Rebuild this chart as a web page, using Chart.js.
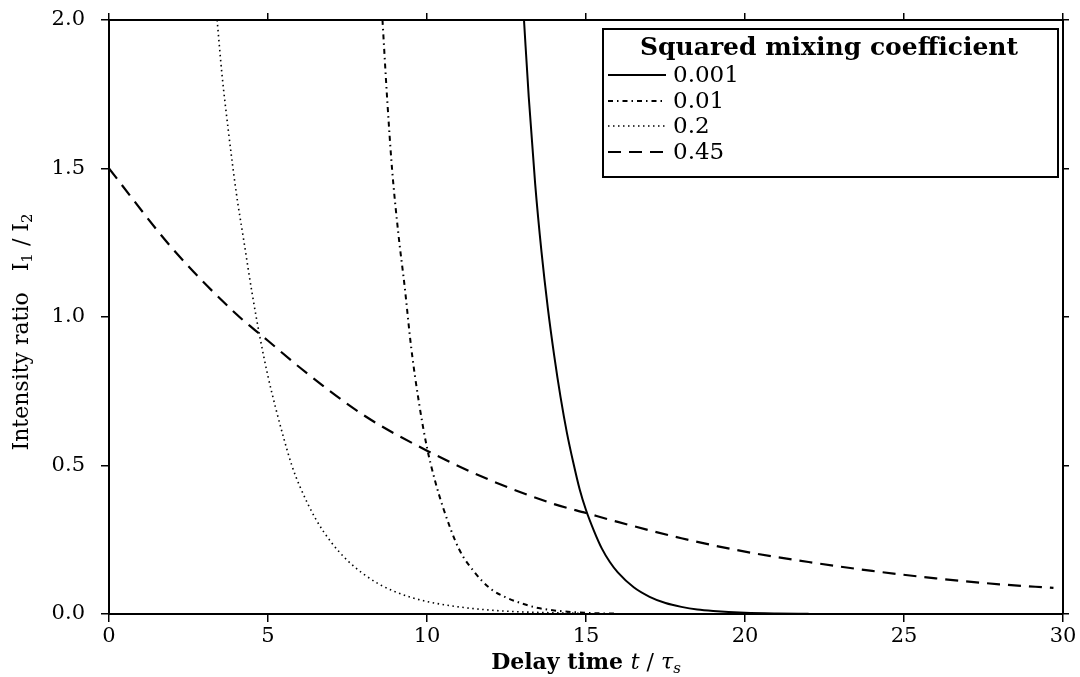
<!DOCTYPE html>
<html>
<head>
<meta charset="utf-8">
<script src="https://cdn.jsdelivr.net/npm/chart.js@4"></script>
<style>
  body { margin: 0; background: #fff; }
  #wrap { width: 1080px; height: 677px; position: relative; }
</style>
</head>
<body>
<div id="wrap"><canvas id="ratioChart"></canvas></div>
<script>
// legend labels (squared mixing coefficient)
const coefficients = ["0.001", "0.01", "0.2", "0.45"];

// 0.001 - solid
const t001 = [13.05, 13.2, 13.4, 13.6, 13.8, 14.0, 14.2, 14.4, 14.6, 14.8, 15.0, 15.25, 15.5, 15.75, 16.0, 16.5, 17.0, 17.5, 18.0, 18.5, 19.0, 20.0, 21.0, 22.0];
const r001 = [2.0, 1.74, 1.45, 1.22, 1.03, 0.87, 0.73, 0.61, 0.51, 0.42, 0.35, 0.28, 0.22, 0.175, 0.14, 0.09, 0.058, 0.037, 0.024, 0.015, 0.01, 0.004, 0.0015, 0.0005];

// 0.01 - dash dot
const t01 = [8.6, 8.75, 8.9, 9.1, 9.3, 9.5, 9.75, 10.0, 10.25, 10.5, 11.0, 11.5, 12.0, 12.5, 13.0, 13.5, 14.0, 15.0, 16.0];
const r01 = [2.0, 1.73, 1.5, 1.28, 1.1, 0.9, 0.71, 0.56, 0.45, 0.36, 0.22, 0.14, 0.085, 0.055, 0.035, 0.02, 0.012, 0.004, 0.001];

// 0.2 - dotted
const t2 = [3.4, 3.55, 3.75, 4.0, 4.25, 4.5, 4.75, 5.0, 5.25, 5.5, 5.75, 6.0, 6.5, 7.0, 7.5, 8.0, 8.5, 9.0, 9.5, 10.0, 11.0, 12.0, 13.0, 14.0, 15.0];
const r2 = [2.0, 1.82, 1.63, 1.42, 1.25, 1.08, 0.93, 0.8, 0.69, 0.59, 0.5, 0.43, 0.32, 0.24, 0.18, 0.135, 0.1, 0.075, 0.056, 0.042, 0.024, 0.013, 0.007, 0.004, 0.002];

// 0.45 - dashed
const t45 = [0, 2, 4, 5, 6, 8, 10, 12, 14, 15, 16, 18, 20, 22, 24, 26, 28, 29.7];
const r45 = [1.5, 1.23, 1.01, 0.92, 0.83, 0.67, 0.55, 0.45, 0.37, 0.34, 0.31, 0.255, 0.21, 0.175, 0.145, 0.12, 0.1, 0.088];

// axis ticks
const xTicks = [0, 5, 10, 15, 20, 25, 30];
const yTicks = [0.0, 0.5, 1.0, 1.5, 2.0];

const SERIF = "'DejaVu Serif', 'Liberation Serif', serif";

function pts(xs, ys) {
  return xs.map((x, i) => ({ x: x, y: ys[i] }));
}

// line styles per coefficient
const styles = [
  { dash: [], width: 2 },
  { dash: [5, 4, 1.5, 4], width: 2 },
  { dash: [1.5, 3.5], width: 1.6 },
  { dash: [13, 8], width: 2.2 }
];
const series = [pts(t001, r001), pts(t01, r01), pts(t2, r2), pts(t45, r45)];

const datasets = coefficients.map((c, i) => ({
  label: c,
  data: series[i],
  borderColor: "#000",
  borderWidth: styles[i].width,
  borderDash: styles[i].dash,
  pointRadius: 0,
  fill: false,
  cubicInterpolationMode: "monotone"
}));

// draws the boxed legend and the axis titles (mixed bold / italic / subscripts)
const decorations = {
  id: "decorations",
  afterDraw(chart) {
    const ctx = chart.ctx;
    ctx.save();
    ctx.fillStyle = "#000";
    ctx.strokeStyle = "#000";

    // legend box
    const bx = 603, by = 29, bw = 455, bh = 148;
    ctx.fillStyle = "#fff";
    ctx.fillRect(bx, by, bw, bh);
    ctx.fillStyle = "#000";
    ctx.lineWidth = 2;
    ctx.setLineDash([]);
    ctx.strokeRect(bx, by, bw, bh);

    ctx.textBaseline = "middle";
    ctx.font = "bold 25px " + SERIF;
    ctx.fillText("Squared mixing coefficient", 640, 48);

    ctx.font = "23px " + SERIF;
    const rows = [75, 101, 126, 152];
    chart.data.datasets.forEach((ds, i) => {
      const y = rows[i];
      ctx.beginPath();
      ctx.lineWidth = ds.borderWidth;
      ctx.setLineDash(ds.borderDash);
      ctx.moveTo(608, y);
      ctx.lineTo(666, y);
      ctx.stroke();
      ctx.setLineDash([]);
      ctx.fillText(ds.label, 673, y + 1);
    });

    // x axis title: Delay time t / τs
    const xParts = [
      ["bold 22px " + SERIF, "Delay time ", 0],
      ["italic 22px " + SERIF, "t", 0],
      ["22px " + SERIF, " / ", 0],
      ["italic 22px " + SERIF, "τ", 0],
      ["italic 15px " + SERIF, "s", 4]
    ];
    let total = 0;
    xParts.forEach(p => { ctx.font = p[0]; total += ctx.measureText(p[1]).width; });
    const area = chart.chartArea;
    let x = (area.left + area.right) / 2 - total / 2;
    ctx.textBaseline = "alphabetic";
    xParts.forEach(p => {
      ctx.font = p[0];
      ctx.fillText(p[1], x, 669 + p[2]);
      x += ctx.measureText(p[1]).width;
    });

    // y axis title: Intensity ratio  I1 / I2
    const yParts = [
      ["22px " + SERIF, "Intensity ratio   I", 0],
      ["15px " + SERIF, "1", 4],
      ["22px " + SERIF, " / I", 0],
      ["15px " + SERIF, "2", 4]
    ];
    total = 0;
    yParts.forEach(p => { ctx.font = p[0]; total += ctx.measureText(p[1]).width; });
    ctx.translate(28, 332);
    ctx.rotate(-Math.PI / 2);
    x = -total / 2;
    yParts.forEach(p => {
      ctx.font = p[0];
      ctx.fillText(p[1], x, p[2]);
      x += ctx.measureText(p[1]).width;
    });
    ctx.restore();
  }
};

// fixed axis sizes; label overhang padding is dropped so the frame sits where the reference has it
function fixed(size) {
  return function (scale) {
    if (scale.isHorizontal()) scale.height = size; else scale.width = size;
    scale.paddingTop = 0;
    scale.paddingBottom = 0;
  };
}

const tickGrid = len => ({ drawOnChartArea: false, drawTicks: true, tickLength: len, color: "#000", lineWidth: 1.5 });
const frame = { display: true, color: "#000", width: 2 };

new Chart(document.getElementById("ratioChart"), {
  type: "line",
  data: { datasets: datasets },
  options: {
    responsive: true,
    maintainAspectRatio: false,
    animation: false,
    layout: { padding: 0 },
    plugins: {
      legend: { display: false },
      tooltip: { enabled: false }
    },
    scales: {
      x: {
        type: "linear", position: "bottom", min: 0, max: 30,
        afterBuildTicks: s => { s.ticks = xTicks.map(v => ({ value: v })); },
        afterFit: fixed(63),
        grid: tickGrid(8), border: frame,
        ticks: { color: "#000", font: { family: SERIF, size: 21 }, padding: 2, maxRotation: 0 }
      },
      x2: {
        type: "linear", position: "top", min: 0, max: 30,
        afterBuildTicks: s => { s.ticks = xTicks.map(v => ({ value: v })); },
        afterFit: fixed(20),
        grid: tickGrid(7), border: frame,
        ticks: { display: false }
      },
      y: {
        type: "linear", position: "left", min: 0, max: 2,
        afterBuildTicks: s => { s.ticks = yTicks.map(v => ({ value: v })); },
        afterFit: fixed(109),
        grid: tickGrid(8), border: frame,
        ticks: { color: "#000", font: { family: SERIF, size: 21 }, padding: 16, callback: v => v.toFixed(1) }
      },
      y2: {
        type: "linear", position: "right", min: 0, max: 2,
        afterBuildTicks: s => { s.ticks = yTicks.map(v => ({ value: v })); },
        afterFit: fixed(17),
        grid: tickGrid(6), border: frame,
        ticks: { display: false }
      }
    }
  },
  plugins: [decorations]
});
</script>
</body>
</html>
